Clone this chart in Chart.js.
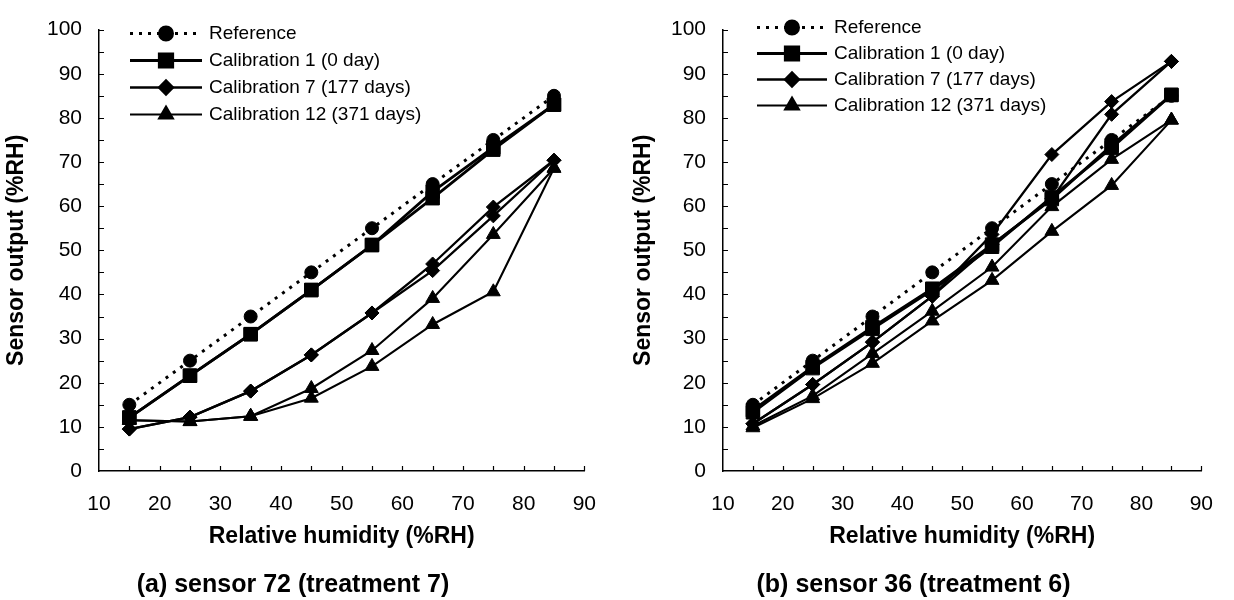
<!DOCTYPE html>
<html>
<head>
<meta charset="utf-8">
<script src="https://cdn.jsdelivr.net/npm/chart.js@4.4.1/dist/chart.umd.min.js"></script>
<style>
  body { margin: 0; background: #fff; width: 1234px; height: 600px; overflow: hidden; position: relative; }
  .box { position: absolute; top: 0; width: 617px; height: 600px; }
</style>
</head>
<body>
<div class="box" style="left:0"><canvas id="chartA" width="617" height="600"></canvas></div>
<div class="box" style="left:617px"><canvas id="chartB" width="617" height="600"></canvas></div>
<script>
// relative humidity steps (x)
const rhLevels = [15, 25, 35, 45, 55, 65, 75, 85];
const legendNames = ['Reference', 'Calibration 1 (0 day)', 'Calibration 7 (177 days)', 'Calibration 12 (371 days)'];

// (a) sensor 72 - each calibration has two runs
const s72Reference = [15, 25, 35, 45, 55, 65, 75, 85];
const s72Cal1a = [12.1, 21.6, 31.0, 41.0, 51.2, 61.8, 72.8, 83.0];
const s72Cal1b = [12.1, 21.6, 31.0, 41.0, 51.2, 63.3, 73.3, 83.0];
const s72Cal7a = [9.5, 12.2, 18.1, 26.3, 35.8, 46.9, 59.8, 70.4];
const s72Cal7b = [9.5, 12.2, 18.1, 26.3, 35.8, 45.4, 57.8, 70.4];
const s72Cal12a = [11.5, 11.2, 12.4, 18.7, 27.3, 39.1, 53.6, 68.6];
const s72Cal12b = [11.5, 11.2, 12.4, 16.5, 23.7, 33.2, 40.6, 68.6];

// (b) sensor 36
const s36Reference = [15, 25, 35, 45, 55, 65, 75, 85];
const s36Cal1a = [13.3, 23.3, 32.2, 41.0, 50.8, 62.1, 73.2, 85.2];
const s36Cal1b = [13.8, 23.6, 32.6, 41.3, 51.3, 61.6, 73.8, 85.2];
const s36Cal7a = [10.7, 19.6, 29.2, 39.6, 53.6, 71.7, 83.7, 92.8];
const s36Cal7b = [10.7, 19.6, 29.2, 39.6, 51.3, 61.7, 80.8, 92.8];
const s36Cal12a = [9.8, 16.4, 24.4, 34.0, 43.2, 54.3, 64.7, 79.5];
const s36Cal12b = [10.2, 17.0, 26.6, 36.2, 46.2, 59.9, 70.6, 79.5];

const FONT = "'Liberation Sans', Arial, Helvetica, sans-serif";
Chart.defaults.font.family = FONT;
Chart.defaults.color = '#000';

// look of each legend group
const styles = [
  { pointStyle: 'circle', radius: 6.5, width: 3, dash: [3, 6] },
  { pointStyle: 'rect', radius: 9.5, width: 2.8, dash: [] },
  { pointStyle: 'rectRot', radius: 7, width: 2.3, dash: [] },
  { pointStyle: 'triangle', radius: 8, width: 2.1, dash: [] }
];

function toPoints(arr) {
  return rhLevels.map((x, i) => ({ x: x, y: arr[i] }));
}

function buildSets(groups) {
  const sets = [];
  groups.forEach((runs, g) => {
    runs.forEach(arr => {
      const s = styles[g];
      sets.push({
        label: legendNames[g],
        data: toPoints(arr),
        borderColor: '#000',
        backgroundColor: '#000',
        borderWidth: s.width,
        borderDash: s.dash,
        pointStyle: s.pointStyle,
        pointRadius: s.radius,
        pointBorderWidth: 1,
        pointBorderColor: '#000',
        pointBackgroundColor: '#000',
        tension: 0,
        fill: false
      });
    });
  });
  return sets;
}

// ticks every 5 units, pointing into the plot
const innerTicks = {
  id: 'innerTicks',
  afterDraw(chart) {
    const ctx = chart.ctx, xs = chart.scales.x, ys = chart.scales.y;
    ctx.save();
    ctx.strokeStyle = '#000';
    ctx.lineWidth = 1.2;
    ctx.beginPath();
    for (let v = 15; v <= 90; v += 5) {
      const px = Math.round(xs.getPixelForValue(v)) + 0.5;
      ctx.moveTo(px, ys.bottom);
      ctx.lineTo(px, ys.bottom - 5);
    }
    for (let v = 5; v <= 100; v += 5) {
      const py = Math.round(ys.getPixelForValue(v)) + 0.5;
      ctx.moveTo(xs.left, py);
      ctx.lineTo(xs.left + 5, py);
    }
    ctx.stroke();
    ctx.restore();
  }
};

// legend drawn inside the plot, one row per calibration
const insideLegend = {
  id: 'insideLegend',
  afterDraw(chart) {
    const o = chart.options.plugins.insideLegend;
    const ctx = chart.ctx;
    ctx.save();
    ctx.font = '19px ' + FONT;
    ctx.textBaseline = 'middle';
    ctx.fillStyle = '#000';
    legendNames.forEach((name, i) => {
      const y = o.top + i * o.step;
      const s = styles[i];
      ctx.strokeStyle = '#000';
      ctx.lineWidth = s.width;
      ctx.setLineDash(s.dash);
      ctx.beginPath();
      ctx.moveTo(o.lineX0, y);
      ctx.lineTo(o.lineX1, y);
      ctx.stroke();
      ctx.setLineDash([]);
      Chart.helpers.drawPoint(ctx, { pointStyle: s.pointStyle, radius: s.radius, rotation: 0, borderWidth: 1 }, (o.lineX0 + o.lineX1) / 2, y);
      ctx.fillStyle = '#000';
      ctx.fill();
      ctx.fillText(name, o.textX, y);
    });
    ctx.restore();
  }
};

function makeChart(id, caption, groups, lay) {
  new Chart(document.getElementById(id), {
    type: 'line',
    data: { datasets: buildSets(groups) },
    plugins: [innerTicks, insideLegend],
    options: {
      responsive: false,
      animation: false,
      layout: { padding: { top: 21, right: lay.right, bottom: 0, left: 0 } },
      scales: {
        x: {
          type: 'linear',
          min: 10, max: 90,
          grid: { display: false, drawTicks: false },
          border: { display: true, color: '#000', width: 1.5 },
          ticks: { stepSize: 10, padding: 21, font: { size: 21 }, color: '#000' },
          title: { display: true, text: 'Relative humidity (%RH)', font: { size: 23, weight: 'bold' }, padding: { top: 0, bottom: 1 }, color: '#000' },
          afterFit(scale) { scale.height = 80; }
        },
        y: {
          min: 0, max: 100,
          grid: { display: false, drawTicks: false },
          border: { display: true, color: '#000', width: 1.5 },
          ticks: { stepSize: 10, padding: 17, font: { size: 21 }, color: '#000' },
          title: { display: true, text: 'Sensor output (%RH)', font: { size: 23, weight: 'bold' }, padding: { top: lay.yTitlePad, bottom: 0 }, color: '#000' },
          afterFit(scale) { scale.width = lay.yWidth; }
        }
      },
      plugins: {
        legend: { display: false },
        tooltip: { enabled: false },
        title: { display: true, position: 'bottom', text: caption, font: { size: 25, weight: 'bold' }, padding: { top: 19, bottom: 0 }, color: '#000' },
        insideLegend: lay.legend
      }
    }
  });
}

makeChart('chartA', '(a) sensor 72 (treatment 7)',
  [[s72Reference], [s72Cal1a, s72Cal1b], [s72Cal7a, s72Cal7b], [s72Cal12a, s72Cal12b]],
  { right: 31, yWidth: 99, yTitlePad: 3, legend: { top: 33.5, step: 27, lineX0: 130, lineX1: 202, textX: 209 } });

makeChart('chartB', '(b) sensor 36 (treatment 6)',
  [[s36Reference], [s36Cal1a, s36Cal1b], [s36Cal7a, s36Cal7b], [s36Cal12a, s36Cal12b]],
  { right: 24, yWidth: 106, yTitlePad: 13, legend: { top: 27.5, step: 26, lineX0: 140, lineX1: 210, textX: 217 } });
</script>
</body>
</html>
